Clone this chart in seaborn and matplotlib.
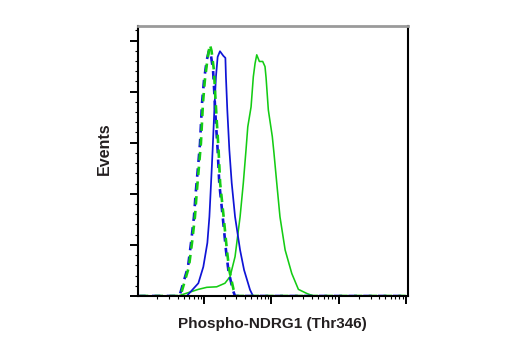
import numpy as np
import pandas as pd
import matplotlib
matplotlib.use("Agg")
import matplotlib.pyplot as plt
import seaborn as sns
from matplotlib.ticker import LogLocator, MultipleLocator, NullFormatter

# ---- data (fluorescence intensity vs. events) ----
blue_dash_x = [1.0, 4.06, 4.35, 5.71, 6.34, 7.01, 7.45, 8.15, 8.63, 9.25, 9.91, 10.9, 11.7,
               12.4, 13.5, 14.1, 14.8, 15.8, 16.7, 18.8, 21.0, 22.8, 26.5, 28.7, 10000]
blue_dash_y = [0, 0, 0.04, 0.57, 1.04, 1.55, 2.02, 2.60, 2.99, 3.78, 4.23, 4.62, 4.80,
               4.76, 4.42, 3.97, 3.44, 2.86, 2.21, 1.55, 0.90, 0.51, 0.12, 0, 0]
green_dash_x = [1.0, 4.2, 4.5, 5.9, 6.55, 7.25, 7.7, 8.4, 8.9, 9.55, 10.2, 11.2, 12.1,
                12.8, 13.9, 14.5, 15.3, 16.3, 17.2, 19.4, 21.7, 23.5, 27.3, 29.6, 10000]
green_dash_y = [0, 0, 0.04, 0.57, 1.04, 1.55, 2.02, 2.60, 2.99, 3.78, 4.23, 4.66, 4.92,
                4.80, 4.42, 3.97, 3.44, 2.86, 2.21, 1.55, 0.90, 0.51, 0.12, 0, 0]

blue_x = [1.0, 5.47, 8.15, 9.66, 11.1, 11.9, 12.6, 13.3, 14.1, 14.9, 15.8, 17.1, 19.2,
          20.6, 21.0, 22.0, 23.6, 25.6, 28.7, 34.1, 39.1, 48.0, 53.2, 10000]
blue_y = [0, 0, 0.25, 0.57, 1.04, 1.55, 2.21, 2.86, 3.64, 4.29, 4.68, 4.79, 4.70,
          4.66, 4.29, 3.64, 2.86, 2.21, 1.55, 0.90, 0.51, 0.12, 0, 0]

green_x = [1.0, 4.06, 8.15, 10.9, 15.3, 20.3, 24.2, 28.7, 34.1, 38.1, 41.8, 44.4, 49.7,
           53.7, 57.0, 60.4, 66.1, 74.1, 80.2, 83.2, 89.9, 103, 109, 120, 134, 160,
           201, 252, 336, 421, 10000]
green_y = [0, 0, 0.13, 0.17, 0.18, 0.25, 0.38, 0.77, 1.55, 2.21, 2.86, 3.31, 3.70,
           4.29, 4.55, 4.72, 4.59, 4.59, 4.49, 4.27, 3.64, 3.12, 2.80, 2.21, 1.55, 0.90,
           0.44, 0.13, 0.05, 0, 0]

x_label = "Phospho-NDRG1 (Thr346)"
y_label = "Events"

BLUE = "#0f14d6"
GREEN = "#14cc14"

sns.set_style("ticks")
plt.rcParams['font.family'] = ['Liberation Sans', 'DejaVu Sans']

fig = plt.figure(figsize=(5.2, 3.5), dpi=100)
ax = fig.add_axes([138 / 520, 1 - 296 / 350, 269.5 / 520, 270.3 / 350])

sns.lineplot(x=green_x, y=green_y, ax=ax, color=GREEN, lw=1.15, sort=False, estimator=None)
sns.lineplot(x=blue_x, y=blue_y, ax=ax, color=BLUE, lw=1.25, sort=False, estimator=None)
sns.lineplot(x=blue_dash_x, y=blue_dash_y, ax=ax, color=BLUE, lw=1.9, sort=False,
             estimator=None)
ax.lines[-1].set_linestyle((0, (3.2, 2.4)))
sns.lineplot(x=green_dash_x, y=green_dash_y, ax=ax, color=GREEN, lw=1.9, sort=False,
             estimator=None)
ax.lines[-1].set_linestyle((4.6, (3.2, 2.4)))

ax.set_xscale('log')
ax.set_xlim(10 ** 0.012, 10 ** 4.027)
ax.set_ylim(0, 5.29)

ax.xaxis.set_major_locator(LogLocator(base=10, numticks=10))
ax.xaxis.set_minor_locator(LogLocator(base=10, subs=np.arange(2, 10), numticks=20))
ax.xaxis.set_major_formatter(NullFormatter())
ax.xaxis.set_minor_formatter(NullFormatter())
ax.yaxis.set_major_locator(MultipleLocator(1))
ax.yaxis.set_minor_locator(MultipleLocator(0.2))
ax.yaxis.set_major_formatter(NullFormatter())

ax.tick_params(which='major', direction='out', length=5.5, width=1.4, color='black')
ax.tick_params(which='minor', direction='out', length=2.5, width=0.8, color='black')
ax.tick_params(top=False, right=False, which='both')

for side in ['left', 'right', 'bottom']:
    ax.spines[side].set_visible(True)
    ax.spines[side].set_color('black')
    ax.spines[side].set_linewidth(1.5)
ax.spines['top'].set_visible(True)
ax.spines['top'].set_color('#9a9a9a')
ax.spines['top'].set_linewidth(2.0)

ax.set_xlabel(x_label, fontsize=11, fontweight='bold', color='#231f20')
ax.set_ylabel(y_label, fontsize=11.5, fontweight='bold', color='#231f20')
ax.xaxis.set_label_coords(0.5, -0.078)
ax.yaxis.set_label_coords(-0.098, 0.544)

fig.savefig("out.png", dpi=100)
